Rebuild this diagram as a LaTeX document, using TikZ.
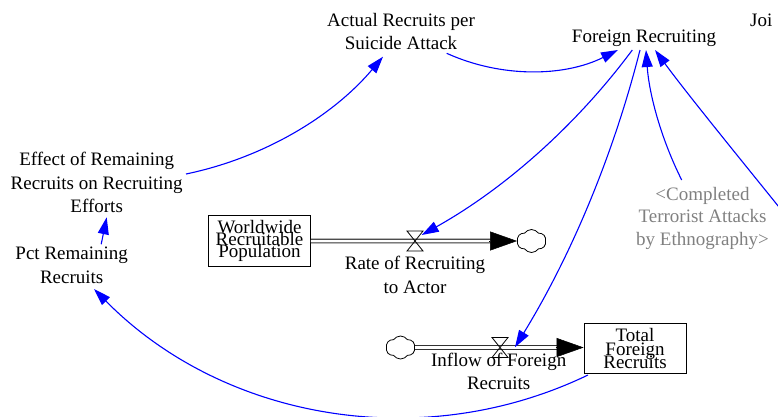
\documentclass[tikz,border=0pt]{standalone}
\usepackage{fontspec}
\setmainfont{Liberation Serif}
\usetikzlibrary{arrows.meta,shapes.symbols}
\tikzset{
  lbl/.style={align=center, inner sep=0pt, font=\fontsize{19}{23.5}\selectfont},
  ghost/.style={align=center, inner sep=0pt, text=black!50, font=\fontsize{19}{22.5}\selectfont},
  stock/.style={draw, line width=0.8pt, minimum width=102pt, minimum height=50.5pt, inner sep=0pt, align=center, font=\fontsize{19}{23.5}\selectfont},
  link/.style={draw=blue, line width=1.1pt, -{Triangle[length=17pt,width=11pt]}},
  pipe/.style={draw=black!80, line width=1.2pt, double=white, double distance=2.5pt},
  pipetip/.style={line width=0.5pt, -{Triangle[length=27pt,width=19pt]}},
  cloudy/.style={cloud, draw, line width=0.8pt, cloud puffs=6, cloud puff arc=110, aspect=1.2, minimum width=29pt, minimum height=23pt, inner sep=0pt},
  valve/.pic={\draw[line width=0.8pt] (-8,10) -- (8,10) -- (-8,-10) -- (8,-10) -- cycle;}
}
\begin{document}
\begin{tikzpicture}[x=1pt,y=1pt]
\useasboundingbox (0,0) rectangle (778,-416);
\clip (0,0) rectangle (778,-416);

% stocks, clouds, valves
\node[stock] (wrp) at (259.5,-241) {Worldwide\\[-11.2pt]Recruitable\\[-11.2pt]Population};
\node[stock] (tfr) at (635,-348.5) {Total\\[-10.2pt]Foreign\\[-10.2pt]Recruits};
\node[cloudy] (c1) at (531.5,-241) {};
\node[cloudy] (c2) at (400.5,-347.5) {};
\coordinate (v1) at (415,-241);
\coordinate (v2) at (500,-347.5);
\coordinate (tfrin) at (c2.east -| tfr.west);

% pipes
\draw[pipe, shorten >=25pt] (wrp.east) -- (c1.west);
\draw[pipetip] ([xshift=-28pt]c1.west) -- (c1.west);
\draw[pipe, shorten >=25pt] (c2.east) -- (tfrin);
\draw[pipetip] ([xshift=-28pt]tfrin) -- (tfrin);
\pic at (v1) {valve};
\pic at (v2) {valve};

% variables
\node[lbl] (actual) at (401,-31.5) {Actual Recruits per\\Suicide Attack};
\node[lbl] (foreign) at (644,-38) {Foreign Recruiting};
\node[lbl, anchor=base west] (joi) at (750,-26) {Joi};
\node[lbl] (effect) at (96.7,-182.5) {Effect of Remaining\\Recruits on Recruiting\\Efforts};
\node[lbl] (pct) at (71.7,-265.2) {Pct Remaining\\Recruits};
\node[ghost] (completed) at (702.5,-218.2) {<Completed\\Terrorist Attacks\\by Ethnography>};
\node[lbl] (ratelbl) at (415,-274.8) {Rate of Recruiting\\to Actor};
\node[lbl] (inflowlbl) at (498.7,-371.6) {Inflow of Foreign\\Recruits};

% links
\draw[link] ([shift={(89.3,8.5)}]effect.center) .. controls +(11.7:78.6) and +(229.85:78.6) .. ([shift={(-18,-25.2)}]actual.center);
\draw[link] ([shift={(45.7,-21.8)}]actual.center) .. controls +(-24.35:60) and +(206.55:60) .. ([shift={(-26,-12)}]foreign.center);
\draw[link] ([shift={(-11.7,-12)}]foreign.center) .. controls +(233.4:94.5) and +(29.2:94.5) .. ([shift={(6.7,6)}]v1);
\draw[link] ([shift={(-4,-12)}]foreign.center) .. controls +(255.8:107.9) and +(58.5:107.9) .. ([shift={(15,0.3)}]v2);
\draw[link] ([shift={(-20.8,38.2)}]completed.center) .. controls +(116.6:45.4) and +(-85.9:45.4) .. ([shift={(2,-12)}]foreign.center);
\coordinate (offright) at (795,-227);
\draw[link] (offright) .. controls +(128.6:60) and +(-53.8:60) .. ([shift={(11,-12)}]foreign.center);
\draw[link] ([shift={(29.5,21)}]pct.center) -- ([shift={(10,-34.8)}]effect.center);
\draw[link] ([shift={(-47,-26.5)}]tfr.center) .. controls +(205.7:184) and +(-45.4:184) .. ([shift={(22.3,-23.8)}]pct.center);
\end{tikzpicture}
\end{document}
